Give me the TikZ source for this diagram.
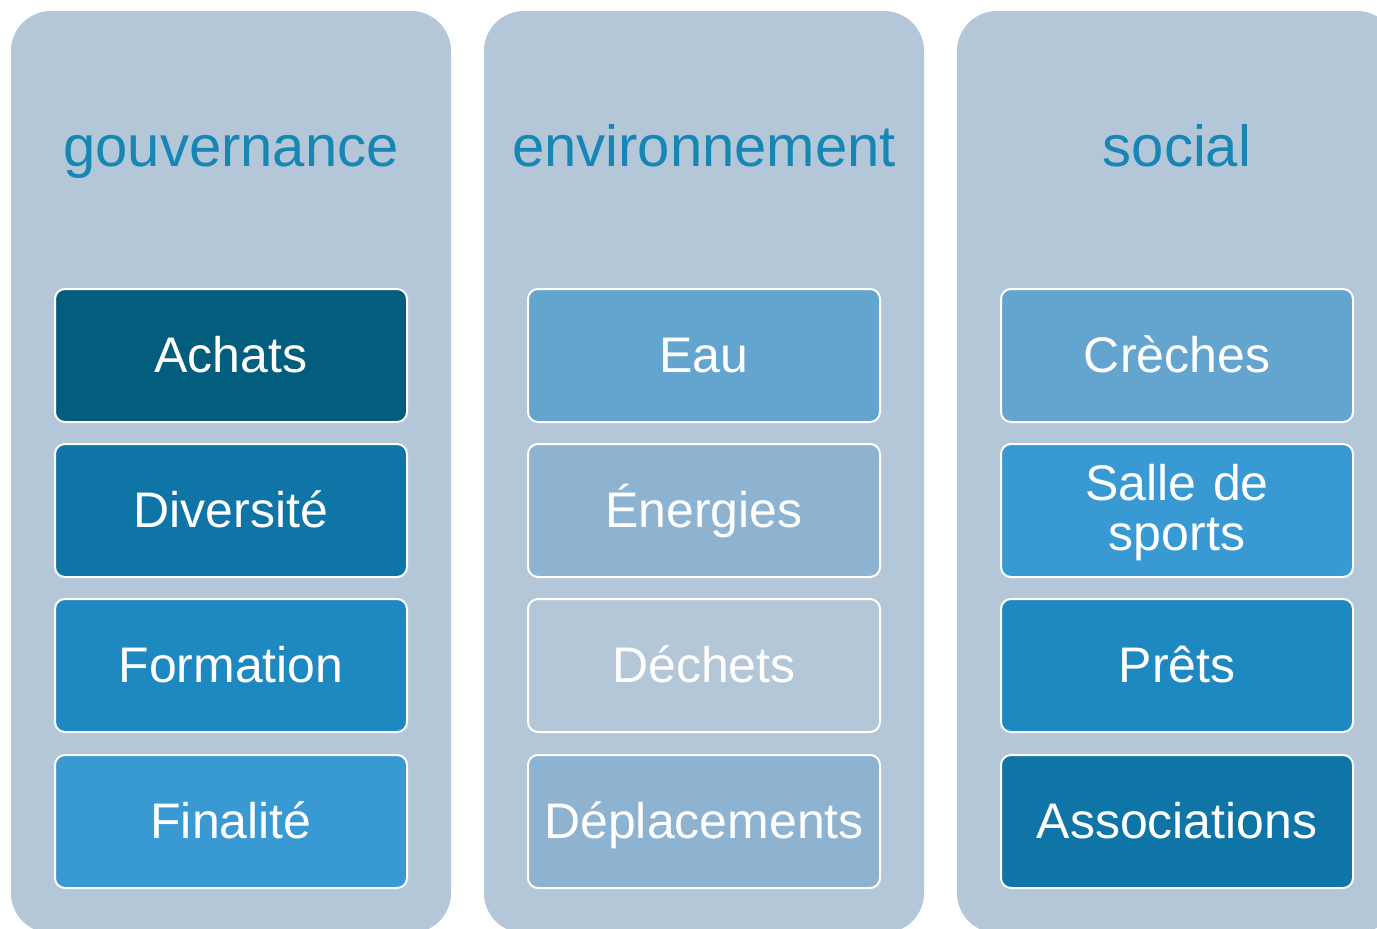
\documentclass[tikz,border=0pt]{standalone}
\usepackage{fontspec}
\setmainfont{Liberation Sans}
\usepackage{tikz}
\definecolor{colbg}{HTML}{B3C7D8}
\definecolor{titleblue}{HTML}{1786B4}
\definecolor{shadeA}{HTML}{035E7E}
\definecolor{shadeB}{HTML}{0E75A6}
\definecolor{shadeC}{HTML}{1E88C0}
\definecolor{shadeD}{HTML}{3899D3}
\definecolor{shadeE}{HTML}{63A5CE}
\definecolor{shadeF}{HTML}{8DB3D0}
\begin{document}
\begin{tikzpicture}[x=1pt,y=-1pt,
  column/.style={fill=colbg,rounded corners=40pt,minimum width=440pt,minimum height=922pt,inner sep=0pt},
  heading/.style={text=titleblue,font=\fontsize{58}{60}\selectfont,inner sep=0pt,text height=42pt,text depth=6pt},
  item/.style={draw=white,line width=2pt,rounded corners=10pt,minimum width=352pt,minimum height=133pt,
    inner sep=0pt,text=white,text width=352pt,align=center,font=\fontsize{50}{50}\selectfont,
    text height=36pt,text depth=3pt}]
\useasboundingbox (0,0) rectangle (1377,929);
\clip (0,0) rectangle (1377,929);
\node[column] (gouv) at (231,472) {};
\node[column] (env) at (704,472) {};
\node[column] (soc) at (1177,472) {};
\node[heading] (gouvtitle) at (231,148) {gouvernance};
\node[heading] (envtitle) at (704,148) {environnement};
\node[heading] (soctitle) at (1177,148) {social};
% gouvernance
\node[item,fill=shadeA] (achats) at (231,355.5) {Achats};
\node[item,fill=shadeB] (diversite) at (231,510.5) {Diversité};
\node[item,fill=shadeC] (formation) at (231,665.5) {Formation};
\node[item,fill=shadeD] (finalite) at (231,821.5) {Finalité};
% environnement
\node[item,fill=shadeE] (eau) at (704,355.5) {Eau};
\node[item,fill=shadeF] (energies) at (704,510.5) {Énergies};
\node[item,fill=colbg] (dechets) at (704,665.5) {Déchets};
\node[item,fill=shadeF] (deplacements) at (704,821.5) {Déplacements};
% social
\node[item,fill=shadeE] (creches) at (1177,355.5) {Crèches};
\node[item,fill=shadeD,text depth=57pt] (salle) at (1177,510.5) {Salle de\\sports};
\node[item,fill=shadeC] (prets) at (1177,665.5) {Prêts};
\node[item,fill=shadeB] (assoc) at (1177,821.5) {Associations};
\end{tikzpicture}
\end{document}
